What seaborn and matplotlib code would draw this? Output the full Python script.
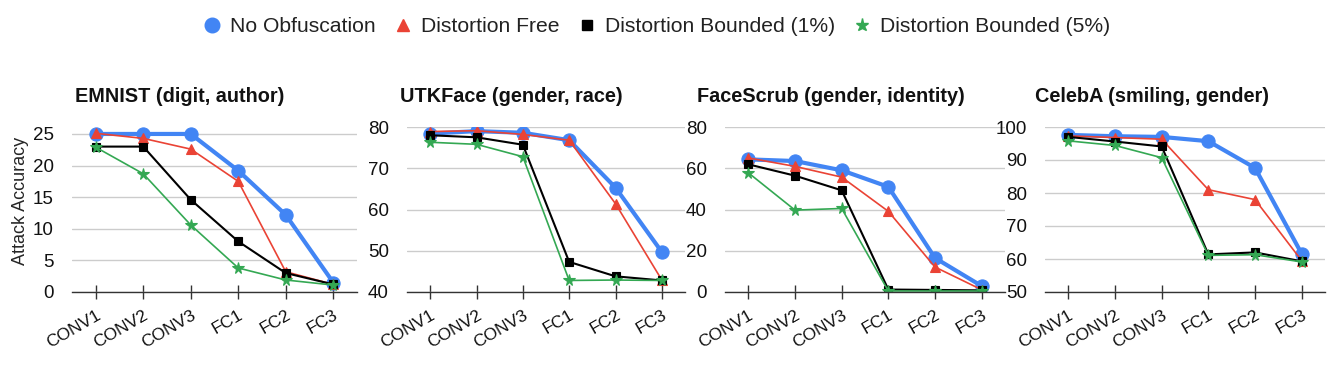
import matplotlib
matplotlib.use("Agg")
import matplotlib.pyplot as plt
from matplotlib.lines import Line2D
import seaborn as sns
import pandas as pd

layers = ["CONV1", "CONV2", "CONV3", "FC1", "FC2", "FC3"]
series_names = ["No Obfuscation", "Distortion Free", "Distortion Bounded (1%)", "Distortion Bounded (5%)"]
panel_titles = ["EMNIST (digit, author)", "UTKFace (gender, race)",
                "FaceScrub (gender, identity)", "CelebA (smiling, gender)"]

emnist = {
    "No Obfuscation": [25.0, 25.0, 25.0, 19.2, 12.2, 1.5],
    "Distortion Free": [25.1, 24.3, 22.6, 17.5, 3.2, 1.2],
    "Distortion Bounded (1%)": [23.0, 23.0, 14.6, 8.0, 3.0, 1.2],
    "Distortion Bounded (5%)": [22.9, 18.7, 10.6, 3.8, 1.9, 1.1],
}
utkface = {
    "No Obfuscation": [78.4, 79.0, 78.6, 76.8, 65.3, 49.7],
    "Distortion Free": [78.9, 79.1, 78.2, 76.8, 61.4, 42.9],
    "Distortion Bounded (1%)": [78.0, 77.5, 75.7, 47.3, 43.8, 42.8],
    "Distortion Bounded (5%)": [76.3, 75.8, 72.8, 42.8, 42.9, 42.8],
}
facescrub = {
    "No Obfuscation": [64.3, 63.5, 59.0, 51.0, 16.5, 2.9],
    "Distortion Free": [65.0, 60.9, 55.7, 39.1, 12.1, 1.1],
    "Distortion Bounded (1%)": [61.9, 56.4, 49.3, 1.2, 1.0, 0.8],
    "Distortion Bounded (5%)": [57.8, 39.7, 40.5, 0.5, 0.5, 0.5],
}
celeba = {
    "No Obfuscation": [97.6, 97.2, 97.0, 95.7, 87.6, 61.6],
    "Distortion Free": [97.3, 96.8, 96.3, 81.0, 78.0, 59.5],
    "Distortion Bounded (1%)": [97.0, 95.6, 94.1, 61.4, 62.0, 59.3],
    "Distortion Bounded (5%)": [95.8, 94.4, 90.7, 61.1, 61.3, 59.1],
}
panel_data = [emnist, utkface, facescrub, celeba]
panel_ylims = [(0, 26.1), (40, 80), (0, 80), (50, 100)]
panel_yticks = [[0, 5, 10, 15, 20, 25], [40, 50, 60, 70, 80],
                [0, 20, 40, 60, 80], [50, 60, 70, 80, 90, 100]]

styles = {
    "No Obfuscation": dict(color="#4285F4", marker="o", lw=3.0, ms=9.5),
    "Distortion Free": dict(color="#EA4335", marker="^", lw=1.2, ms=7),
    "Distortion Bounded (1%)": dict(color="#000000", marker="s", lw=1.5, ms=6),
    "Distortion Bounded (5%)": dict(color="#34A853", marker="*", lw=1.2, ms=8.5),
}

sns.set_theme(style="white")
plt.rcParams["font.family"] = ["Liberation Sans", "DejaVu Sans"]

fig = plt.figure(figsize=(13.3, 3.77), dpi=100)
W, H = 1330.0, 377.0
ax_px = [(72, 285), (407, 278), (725, 280), (1045, 280)]
bottom, top = 292, 127
title_x = [75, 400, 697, 1035]

for i, (data, (left, width)) in enumerate(zip(panel_data, ax_px)):
    ax = fig.add_axes([left / W, 1 - bottom / H, width / W, (bottom - top) / H])
    for name in series_names:
        df = pd.DataFrame({"layer": layers, "acc": data[name]})
        st = styles[name]
        sns.lineplot(data=df, x="layer", y="acc", ax=ax, sort=False,
                     color=st["color"], marker=st["marker"], linewidth=st["lw"],
                     markersize=st["ms"], markeredgecolor=st["color"], markeredgewidth=0.8)
    ax.set_xlim(-0.5, 5.5)
    ax.set_ylim(*panel_ylims[i])
    ax.set_yticks(panel_yticks[i])
    ax.grid(axis="y", color="#cccccc", lw=1)
    ax.grid(axis="x", visible=False)
    for s in ["top", "right", "left"]:
        ax.spines[s].set_visible(False)
    ax.spines["bottom"].set_color("#333333")
    ax.spines["bottom"].set_linewidth(1.0)
    ax.tick_params(axis="x", bottom=True, direction="inout", length=10, width=1,
                   color="#333333", labelsize=12.5, pad=6, labelcolor="#111111")
    ax.tick_params(axis="y", left=False, labelsize=13.5, pad=7, labelcolor="#111111")
    ax.set_xticks(range(len(layers)))
    ax.set_xticklabels(layers, rotation=30, ha="right", rotation_mode="anchor")
    ax.set_xlabel("")
    if i == 0:
        ax.set_ylabel("Attack Accuracy", fontsize=13)
        ax.yaxis.set_label_coords(-43 / width, 0.55)
    else:
        ax.set_ylabel("")
    fig.text(title_x[i] / W, 1 - 97 / H, panel_titles[i], fontsize=14.3,
             fontweight="bold", ha="left", va="center", color="#111111")

handles = [Line2D([], [], ls="none", marker=styles[n]["marker"], color=styles[n]["color"],
                  markersize={"o": 10.5, "^": 8, "s": 7, "*": 9.5}[styles[n]["marker"]])
           for n in series_names]
fig.legend(handles, series_names, loc="center", bbox_to_anchor=(657 / W, 1 - 27 / H),
           ncol=4, frameon=False, fontsize=15.2, handlelength=0.8, handletextpad=0.45,
           columnspacing=0.9, labelcolor="#222222")

fig.savefig("out.png", dpi=100)
